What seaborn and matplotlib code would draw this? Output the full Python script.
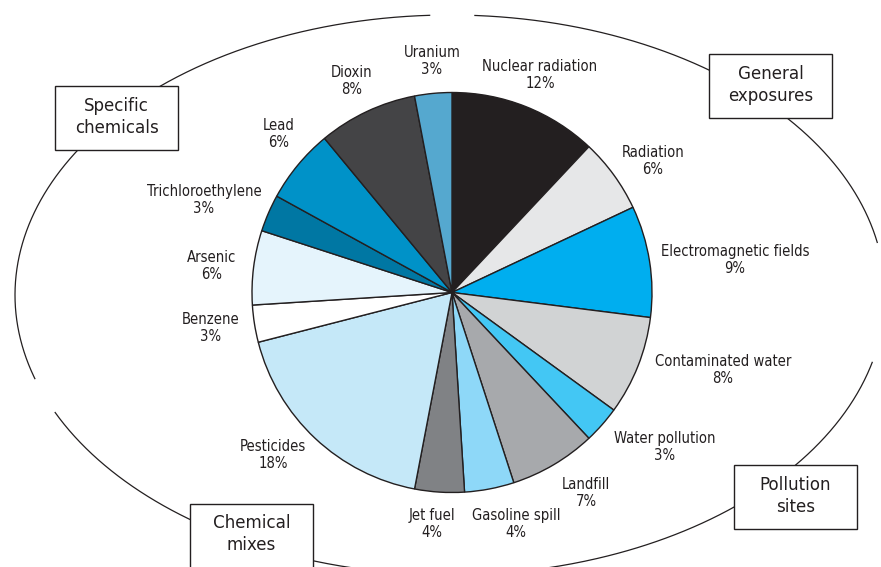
import numpy as np
import matplotlib
matplotlib.use("Agg")
import matplotlib.pyplot as plt
import seaborn as sns
from matplotlib.patches import Rectangle
from matplotlib import font_manager as fm

# ---------------- data ----------------
categories = ["Nuclear radiation", "Radiation", "Electromagnetic fields",
              "Contaminated water", "Water pollution", "Landfill",
              "Gasoline spill", "Jet fuel", "Pesticides", "Benzene",
              "Arsenic", "Trichloroethylene", "Lead", "Dioxin", "Uranium"]
percentages = [12, 6, 9, 8, 3, 7, 4, 4, 18, 3, 6, 3, 6, 8, 3]
group_names = ["Specific\nchemicals", "General\nexposures",
               "Chemical\nmixes", "Pollution\nsites"]

# ---------------- styles / layout ----------------
slice_colors = ["#231f20", "#e6e7e8", "#00aeef", "#d1d3d4", "#43c7f4",
                "#a7a9ac", "#8ed8f8", "#808285", "#c5e8f8", "#ffffff",
                "#e5f4fc", "#0077a3", "#0092c8", "#444446", "#55a8cf"]
# label centres (pixel coords, y down)
label_xy = [(540, 75), (653, 161), (735, 260), (723, 370), (665, 447),
            (586, 493), (516, 524), (432, 524), (273, 455), (211, 328),
            (212, 266), (204, 200), (279, 134), (352, 81), (432, 61)]
# group boxes: (left, top, right, bottom)
boxes = [(55, 86, 178, 150), (709, 54, 832, 118),
         (190, 504, 313, 580), (734, 465, 857, 529)]
box_text_y = [117, 85, 534, 496]

W, H = 881, 567
TXT = "#231f20"

sns.set_theme(style="white")

# choose a narrow sans font if one is available
avail = {(f.name, f.stretch) for f in fm.fontManager.ttflist}
names = {n for n, _ in avail}
stretch = "normal"
if "Liberation Sans Narrow" in names:
    family = "Liberation Sans Narrow"
elif any(n == "DejaVu Sans" and s in ("condensed", "semi-condensed", 600, 700)
         for n, s in avail):
    family = "DejaVu Sans"
    stretch = "condensed"
elif "Roboto" in names:
    family = "Roboto"
else:
    family = "DejaVu Sans"
plt.rcParams["font.family"] = [family, "DejaVu Sans"]
plt.rcParams["font.stretch"] = stretch

fig = plt.figure(figsize=(W / 100, H / 100), dpi=100)
ax = fig.add_axes([0, 0, 1, 1])
renderer = fig.canvas.get_renderer()


def fit_size(sample, target_w, max_size):
    fp = fm.FontProperties(family=[family, "DejaVu Sans"], stretch=stretch,
                           size=10)
    w, h, d = renderer.get_text_width_height_descent(sample, fp, ismath=False)
    return min(max_size, 10 * target_w / w)


def spacing(size, gap):
    fp = fm.FontProperties(family=[family, "DejaVu Sans"], stretch=stretch,
                           size=size)
    w, h, d = renderer.get_text_width_height_descent("lp", fp, ismath=False)
    return gap / (h - d)


lab_size = fit_size("Nuclear radiation", 115, 12)
box_size = fit_size("exposures", 85, 15)
lab_ls = spacing(lab_size, 16) * 0.82
box_ls = spacing(box_size, 21.5) * 0.85

# outer ellipse (decorative), drawn in pieces with gaps
cx, cy, ea, eb = 450, 295, 435, 280
for t0, t1 in [(10.7, 86.8), (92.6, 197.5), (204.7, 346.2)]:
    t = np.radians(np.linspace(t0, t1, 400))
    ax.plot(cx + ea * np.cos(t), cy - eb * np.sin(t), color="#231f20",
            lw=0.9, zorder=1, solid_capstyle="butt")

# pie
ax.pie(percentages, colors=slice_colors, startangle=-90, counterclock=True,
       center=(452, 292.5), radius=200, frame=True,
       wedgeprops=dict(edgecolor="#231f20", linewidth=1.0, zorder=2))

# slice labels
for name, pct, (x, y) in zip(categories, percentages, label_xy):
    ax.text(x, y, f"{name}\n{pct}%", ha="center", va="center",
            multialignment="center", fontsize=lab_size, linespacing=lab_ls,
            color=TXT, zorder=5)

# group boxes
for (l, t, r, b), ty, txt in zip(boxes, box_text_y, group_names):
    ax.add_patch(Rectangle((l, t), r - l, b - t, facecolor="white",
                           edgecolor="#231f20", lw=1.0, zorder=4))
    ax.text((l + r) / 2, ty, txt, ha="center", va="center",
            multialignment="center", fontsize=box_size, linespacing=box_ls,
            color=TXT, zorder=5)

ax.set_xlim(0, W)
ax.set_ylim(H, 0)
ax.set_aspect("equal")
ax.axis("off")

fig.savefig("out.png", dpi=100, facecolor="white")
